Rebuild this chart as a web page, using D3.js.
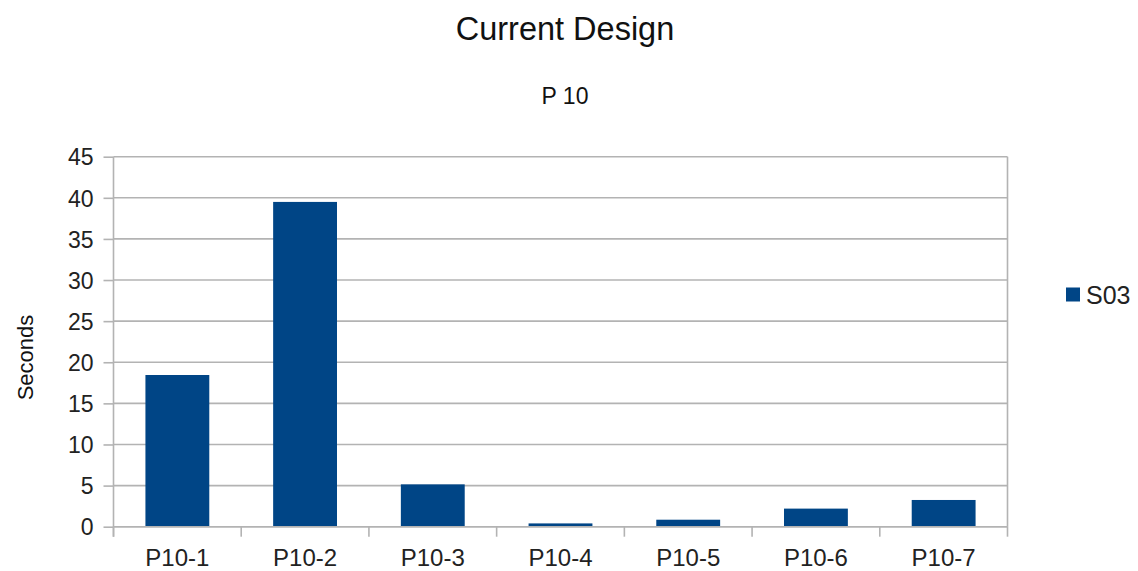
<!DOCTYPE html>
<html>
<head>
<meta charset="utf-8">
<script src="https://cdn.jsdelivr.net/npm/d3@7"></script>
<style>
  html, body { margin: 0; padding: 0; background: #fff; }
  svg { display: block; font-family: "Liberation Sans", Arial, sans-serif; }
</style>
</head>
<body>
<svg id="chart" width="1138" height="571"></svg>
<script>
// Chart data
const categories = ["P10-1", "P10-2", "P10-3", "P10-4", "P10-5", "P10-6", "P10-7"];
const seriesName = "S03";
const values = [18.45, 39.5, 5.15, 0.4, 0.85, 2.2, 3.25];
const yTicks = [0, 5, 10, 15, 20, 25, 30, 35, 40, 45];

const svg = d3.select("#chart");
const plot = { left: 113.5, right: 1007.5, top: 156.7, bottom: 526.7 };
const barColor = "#004586";
const gridColor = "#b3b3b3";

const x = d3.scaleBand()
  .domain(categories)
  .range([plot.left, plot.right])
  .paddingInner(0.5)
  .paddingOuter(0.25);

const y = d3.scaleLinear()
  .domain([0, 45])
  .range([plot.bottom, plot.top]);

// Horizontal gridlines
svg.append("g")
  .selectAll("line")
  .data(yTicks)
  .join("line")
  .attr("x1", plot.left)
  .attr("x2", plot.right)
  .attr("y1", d => y(d))
  .attr("y2", d => y(d))
  .attr("stroke", gridColor)
  .attr("stroke-width", 1.6);

// Right border of the plot area
svg.append("line")
  .attr("x1", plot.right).attr("x2", plot.right)
  .attr("y1", plot.top).attr("y2", plot.bottom)
  .attr("stroke", gridColor).attr("stroke-width", 1.6);

// Bars
svg.append("g")
  .selectAll("rect")
  .data(values)
  .join("rect")
  .attr("x", (d, i) => x(categories[i]))
  .attr("width", x.bandwidth())
  .attr("y", d => y(d))
  .attr("height", d => y(0) - y(d))
  .attr("fill", barColor);

// Y axis
const yAxis = svg.append("g")
  .attr("transform", `translate(${plot.left},0)`)
  .call(d3.axisLeft(y).tickValues(yTicks).tickSize(10).tickPadding(10));
yAxis.select(".domain").attr("stroke", gridColor).attr("stroke-width", 1.6)
  .attr("d", `M0,${plot.top}V${plot.bottom + 10}`);
yAxis.selectAll(".tick line").attr("stroke", gridColor).attr("stroke-width", 1.6);
yAxis.selectAll(".tick text")
  .attr("fill", "#222")
  .style("font-size", "23px")
  .attr("dy", "0.36em");

// X axis with boundary ticks between categories
const xAxis = svg.append("g")
  .attr("transform", `translate(0,${plot.bottom})`);
xAxis.append("line")
  .attr("x1", plot.left).attr("x2", plot.right)
  .attr("stroke", gridColor).attr("stroke-width", 1.6);
const step = x.step();
const bounds = d3.range(categories.length + 1).map(i => plot.left + i * step);
xAxis.selectAll("line.bound")
  .data(bounds)
  .join("line")
  .attr("class", "bound")
  .attr("x1", d => d).attr("x2", d => d)
  .attr("y1", 0).attr("y2", 10)
  .attr("stroke", gridColor).attr("stroke-width", 1.6);
xAxis.selectAll("text")
  .data(categories)
  .join("text")
  .attr("x", d => x(d) + x.bandwidth() / 2)
  .attr("y", 39)
  .attr("text-anchor", "middle")
  .attr("fill", "#222")
  .style("font-size", "24px")
  .text(d => d);

// Titles
svg.append("text")
  .attr("x", 565).attr("y", 39.5)
  .attr("text-anchor", "middle")
  .attr("fill", "#111")
  .style("font-size", "32.5px")
  .text("Current Design");
svg.append("text")
  .attr("x", 565).attr("y", 104)
  .attr("text-anchor", "middle")
  .attr("fill", "#111")
  .style("font-size", "23px")
  .text("P 10");

// Y axis title
svg.append("text")
  .attr("transform", "translate(32.5,357.5) rotate(-90)")
  .attr("text-anchor", "middle")
  .attr("fill", "#111")
  .style("font-size", "22px")
  .text("Seconds");

// Legend
const legend = svg.append("g").attr("transform", "translate(1066,287.5)");
legend.append("rect")
  .attr("width", 14).attr("height", 14)
  .attr("fill", barColor);
legend.append("text")
  .attr("x", 20).attr("y", 16)
  .attr("fill", "#222")
  .style("font-size", "25px")
  .text(seriesName);
</script>
</body>
</html>
